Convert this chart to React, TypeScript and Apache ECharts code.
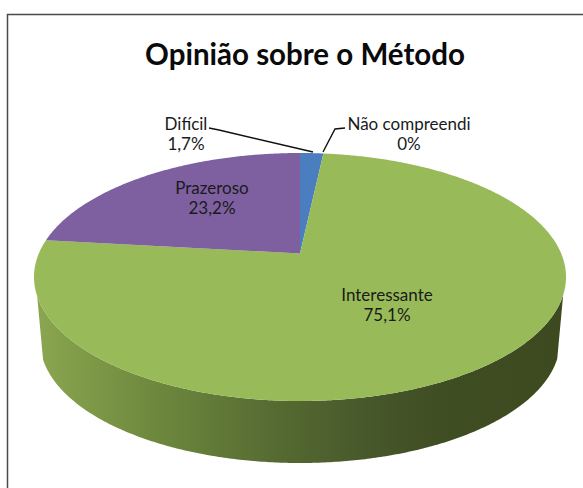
import React, { useEffect, useRef } from "react";
import * as echarts from "echarts";

const titleText = "Opinião sobre o Método";
const categories = ["Difícil", "Não compreendi", "Interessante", "Prazeroso"];
const shares = [1.7, 0, 75.1, 23.2];
const percentLabels = ["1,7%", "0%", "75,1%", "23,2%"];

const sliceColors = ["#4A7EBF", "#4A7EBF", "#99BA58", "#7E60A0"];
const labelCentres = [
  [186, 133],
  [409, 133],
  [387, 304],
  [212, 197],
];
const leaderLines = [
  [[209, 128], [219, 130], [313, 152]],
  [[345, 128], [335, 129], [323, 152]],
];

const TOP = { cx: 300, cy: 277, rx: 266, ry: 124 };
const BOTTOM = { cx: 300, cy: 341, rx: 260, ry: 122 };
const APEX_SHIFT = 0.19;
const WALL_FROM = 0.145;

// perspective of the disc: the pie's centre sits behind the middle of the ellipse
function project(fraction: number) {
  const t = fraction * 2 * Math.PI;
  const x = Math.sin(t);
  const y = -Math.cos(t);
  const d = APEX_SHIFT;
  const w = 1 - d * y;
  return [(x * Math.sqrt(1 - d * d)) / w, (y - d) / w];
}
const place = (p: number[], e: typeof TOP) => [e.cx + e.rx * p[0], e.cy + e.ry * p[1]];

const total = shares.reduce((a, b) => a + b, 0);

function renderItem(params: any, api: any) {
  const i = params.dataIndex;
  const value = api.value(0);
  if (!value) return { type: "group", children: [] };
  const start = shares.slice(0, i).reduce((a, b) => a + b, 0) / total;
  const span = value / total;
  const steps = Math.max(4, Math.round(span * 720));
  const rim: number[][] = [];
  for (let s = 0; s <= steps; s++) rim.push(project(start + (span * s) / steps));

  const children: any[] = [];
  const front = rim.filter((p) => p[1] >= WALL_FROM);
  if (front.length > 1) {
    children.push({
      type: "polygon",
      shape: {
        points: front.map((p) => place(p, TOP)).concat(front.slice().reverse().map((p) => place(p, BOTTOM))),
      },
      style: {
        fill: new echarts.graphic.LinearGradient(1, 0, 0, 0, [
          { offset: 0, color: "#3D4A20" },
          { offset: 0.22, color: "#3F4D22" },
          { offset: 0.36, color: "#46572A" },
          { offset: 0.55, color: "#566B32" },
          { offset: 0.78, color: "#6E893E" },
          { offset: 1, color: "#8BA64F" },
        ]),
      },
    });
  }
  children.push({
    type: "polygon",
    shape: { points: [place([0, -APEX_SHIFT], TOP)].concat(rim.map((p) => place(p, TOP))) },
    style: { fill: sliceColors[i] },
  });
  return { type: "group", children };
}

export default function App() {
  const ref = useRef<HTMLDivElement>(null);
  useEffect(() => {
    const chart = echarts.init(ref.current!, null, { renderer: "svg" });
    const font = "Lato";
    chart.setOption({
      animation: false,
      backgroundColor: "#ffffff",
      title: {
        text: titleText,
        left: 300,
        top: 33,
        textAlign: "center",
        textStyle: { fontFamily: font, fontWeight: "bold", fontSize: 29.5, color: "#0a0a0a" },
      },
      series: [
        {
          type: "custom",
          coordinateSystem: "none",
          renderItem,
          data: categories.map((name, i) => ({ name, value: shares[i] })),
          silent: true,
        },
      ],
      graphic: [
        {
          type: "polyline",
          silent: true,
          shape: { points: [[7.5, 700], [7.5, 14.5], [700, 14.5]] },
          style: { stroke: "#4a4a4a", lineWidth: 1.5, fill: "none" },
        },
        ...leaderLines.map((points) => ({
          type: "polyline",
          silent: true,
          z: 10,
          shape: { points },
          style: { stroke: "#111111", lineWidth: 1.4, fill: "none" },
        })),
        ...categories.map((name, i) => ({
          type: "text",
          silent: true,
          z: 10,
          x: labelCentres[i][0],
          y: labelCentres[i][1],
          style: {
            text: name + "\n" + percentLabels[i],
            fontFamily: font,
            fontSize: 17,
            lineHeight: 20,
            fill: "#1a1a1a",
            align: "center",
            verticalAlign: "middle",
          },
        })),
      ],
    });
    return () => chart.dispose();
  }, []);
  return <div ref={ref} style={{ position: "absolute", left: 0, top: 0, width: 583, height: 488 }} />;
}
